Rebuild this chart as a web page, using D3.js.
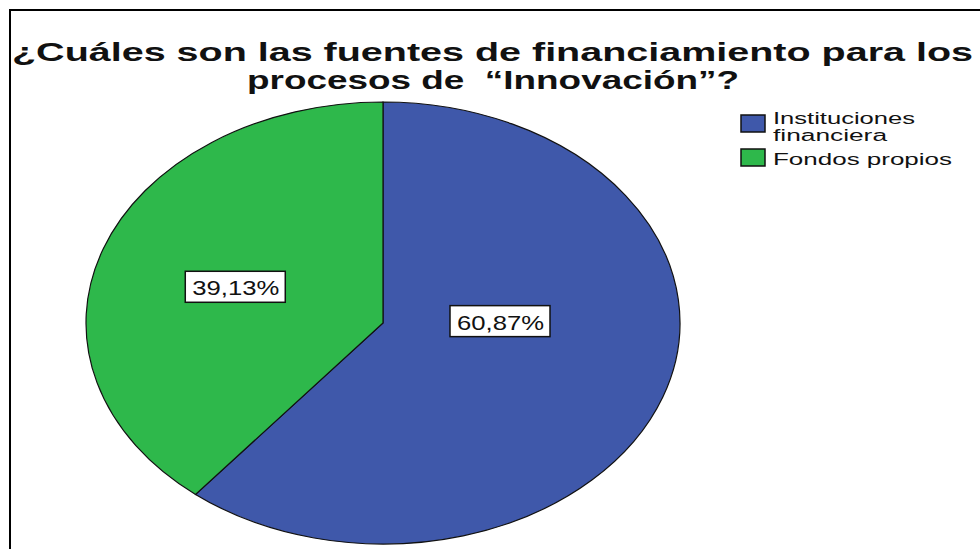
<!DOCTYPE html>
<html>
<head>
<meta charset="utf-8">
<script src="https://cdn.jsdelivr.net/npm/d3@7"></script>
<style>
  body { margin: 0; background: #fff; }
  svg { display: block; }
</style>
</head>
<body>
<svg id="chart"></svg>
<script>
// Data
const categories = ["Instituciones financiera", "Fondos propios"];
const legendLines = [["Instituciones", "financiera"], ["Fondos propios"]];
const values = [60.87, 39.13];
const valueLabels = ["60,87%", "39,13%"];
const colors = ["#3f58aa", "#2eb84b"];
const titleLines = ["¿Cuáles son las fuentes de financiamiento para los", "procesos de  “Innovación”?"];

// Layout
const width = 980, height = 549;
const cx = 383, cy = 323;
const ry = 221, rx = 297;          // the picture is stretched sideways
const stretch = rx / ry;

const svg = d3.select("#chart")
  .attr("width", width)
  .attr("height", height);

// frame (only top and left are visible)
svg.append("rect")
  .attr("x", 10).attr("y", 10)
  .attr("width", width + 20).attr("height", height + 20)
  .attr("fill", "none")
  .attr("stroke", "#000")
  .attr("stroke-width", 2);

// Title
svg.append("g")
  .selectAll("text")
  .data(titleLines)
  .join("text")
    .attr("x", (d, i) => i === 0 ? 12 : 247)
    .attr("y", (d, i) => 61 + i * 28)
    .attr("textLength", (d, i) => i === 0 ? 961 : 492)
    .attr("lengthAdjust", "spacingAndGlyphs")
    .style("white-space", "pre")
    .attr("font-family", "'Liberation Sans', Arial, sans-serif")
    .attr("font-weight", "bold")
    .attr("font-size", 26)
    .attr("fill", "#111")
    .text(d => d);

// Pie, drawn as a circle then stretched into an ellipse
const pie = d3.pie().sort(null).value(d => d)(values);
const arc = d3.arc().innerRadius(0).outerRadius(ry);

const pieGroup = svg.append("g")
  .attr("transform", `translate(${cx},${cy}) scale(${stretch},1)`);

pieGroup.selectAll("path")
  .data(pie)
  .join("path")
    .attr("d", arc)
    .attr("fill", (d, i) => colors[i])
    .attr("stroke", "#111")
    .attr("stroke-width", 1.2)
    .attr("vector-effect", "non-scaling-stroke");

// value labels (SPSS nudges them, so radius/angle tweaks per slice)
const labelArc = [
  {r: 0.394, a: Math.PI * 0.495},
  {r: 0.523, a: -Math.PI * 0.40}
];
const labels = svg.append("g").selectAll("g")
  .data(pie)
  .join("g")
    .attr("transform", (d, i) => {
      const p = labelArc[i];
      const x = cx + Math.sin(p.a) * p.r * rx;
      const y = cy - Math.cos(p.a) * p.r * ry;
      return `translate(${x},${y})`;
    });

labels.append("rect")
  .attr("x", -50).attr("y", -16)
  .attr("width", 100).attr("height", 31)
  .attr("fill", "#fff")
  .attr("stroke", "#111")
  .attr("stroke-width", 1.5);

labels.append("text")
  .attr("x", -43)
  .attr("y", 8)
  .attr("textLength", 87)
  .attr("lengthAdjust", "spacingAndGlyphs")
  .attr("font-family", "'Liberation Sans', Arial, sans-serif")
  .attr("font-size", 21)
  .attr("fill", "#111")
  .text((d, i) => valueLabels[i]);

// Legend
const legend = svg.append("g")
  .attr("transform", "translate(741,115)");

const items = legend.selectAll("g")
  .data(categories)
  .join("g")
    .attr("transform", (d, i) => `translate(0,${i * 34})`);

items.append("rect")
  .attr("width", 24).attr("height", 17)
  .attr("fill", (d, i) => colors[i])
  .attr("stroke", "#111")
  .attr("stroke-width", 1.5);

const legendWidths = [[142, 114], [179]];
items.each(function (d, i) {
  const g = d3.select(this);
  legendLines[i].forEach((line, j) => {
    g.append("text")
      .attr("x", 32)
      .attr("y", (i === 0 ? 9 : 16) + j * 17)
      .attr("textLength", legendWidths[i][j])
      .attr("lengthAdjust", "spacingAndGlyphs")
      .attr("font-family", "'Liberation Sans', Arial, sans-serif")
      .attr("font-size", 16)
      .attr("fill", "#111")
      .text(line);
  });
});
</script>
</body>
</html>
